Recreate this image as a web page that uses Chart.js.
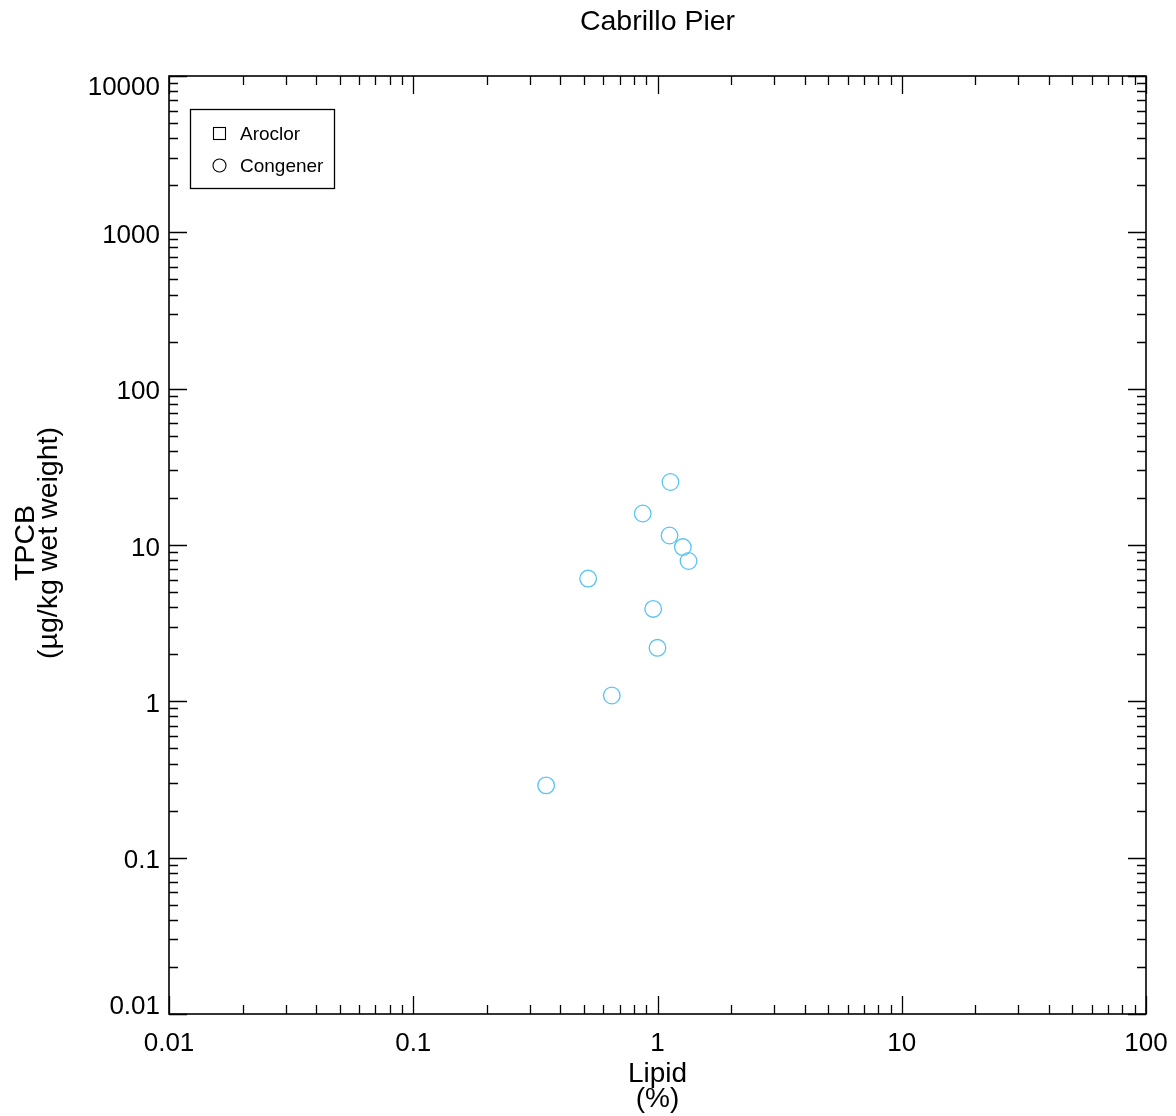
<!DOCTYPE html>
<html><head><meta charset="utf-8">
<script src="https://cdn.jsdelivr.net/npm/chart.js@4/dist/chart.umd.min.js"></script>
<style>html,body{margin:0;padding:0;background:#fff}#wrap{width:1176px;height:1116px;position:relative}</style>
</head><body><div id="wrap"><canvas id="c" width="1176" height="1116"></canvas></div>
<script>
const chartTitle = "Cabrillo Pier";
const xTitle = ["Lipid", "(%)"];
const yTitle = ["TPCB", "(µg/kg wet weight)"];
const xTickValues = [0.01, 0.1, 1, 10, 100];
const xTickLabels = ["0.01", "0.1", "1", "10", "100"];
const yTickValues = [0.01, 0.1, 1, 10, 100, 1000, 10000];
const yTickLabels = ["0.01", "0.1", "1", "10", "100", "1000", "10000"];
const seriesNames = ["Aroclor", "Congener"];
const aroclorLipid = [];
const aroclorTPCB = [];
const congenerLipid = [1.13, 0.87, 1.12, 1.27, 1.34, 0.52, 0.96, 1.00, 0.65, 0.35];
const congenerTPCB = [25.3, 15.9, 11.5, 9.7, 7.9, 6.1, 3.9, 2.2, 1.09, 0.29];

const FONT = "'Liberation Sans', Arial, Helvetica, sans-serif";
const pointColor = "rgb(88,196,244)";

function toPoints(xs, ys) { return xs.map((x, i) => ({ x: x, y: ys[i] })); }

const framePlugin = {
  id: "frame",
  afterDraw(chart) {
    const ctx = chart.ctx;
    const a = chart.chartArea;
    const xs = chart.scales.x, ys = chart.scales.y;
    ctx.save();
    ctx.strokeStyle = "#000";
    ctx.lineWidth = 1.6;
    ctx.strokeRect(a.left, a.top, a.right - a.left, a.bottom - a.top);
    ctx.lineWidth = 1.3;
    const MAJ = 18, MIN = 9;
    ctx.beginPath();
    for (let e = -2; e <= 2; e++) {
      for (let m = 1; m <= 9; m++) {
        const v = m * Math.pow(10, e);
        if (v > 100.0001) continue;
        const px = Math.round(xs.getPixelForValue(v)) + 0.5;
        const len = m === 1 ? MAJ : MIN;
        ctx.moveTo(px, a.bottom); ctx.lineTo(px, a.bottom - len);
        ctx.moveTo(px, a.top); ctx.lineTo(px, a.top + len);
      }
    }
    for (let e = -2; e <= 4; e++) {
      for (let m = 1; m <= 9; m++) {
        const v = m * Math.pow(10, e);
        if (v > 10000.001) continue;
        const py = Math.round(ys.getPixelForValue(v)) + 0.5;
        const len = m === 1 ? MAJ : MIN;
        ctx.moveTo(a.left, py); ctx.lineTo(a.left + len, py);
        ctx.moveTo(a.right, py); ctx.lineTo(a.right - len, py);
      }
    }
    ctx.stroke();

    ctx.fillStyle = "#000";
    // tick labels
    ctx.font = "26px " + FONT;
    ctx.textAlign = "center";
    ctx.textBaseline = "alphabetic";
    xTickValues.forEach((v, i) => {
      ctx.fillText(xTickLabels[i], xs.getPixelForValue(v), 1051);
    });
    ctx.textAlign = "right";
    const half = 9.3;
    yTickValues.forEach((v, i) => {
      let c = ys.getPixelForValue(v) + 1.5;
      c = Math.min(Math.max(c, a.top + half), a.bottom - half);
      ctx.fillText(yTickLabels[i], 160, c + half);
    });

    // title
    const cx = (a.left + a.right) / 2;
    ctx.textAlign = "center";
    ctx.textBaseline = "middle";
    ctx.font = "28.5px " + FONT;
    ctx.fillText(chartTitle, cx, 22);

    // x title
    ctx.font = "28px " + FONT;
    ctx.textBaseline = "alphabetic";
    ctx.fillText(xTitle[0], cx, 1082);
    ctx.fillText(xTitle[1], cx, 1107);

    // y title
    const cy = (a.top + a.bottom) / 2;
    ctx.save();
    ctx.translate(0, cy - 2);
    ctx.rotate(-Math.PI / 2);
    ctx.textAlign = "center";
    ctx.textBaseline = "middle";
    ctx.font = "28.5px " + FONT;
    ctx.fillText(yTitle[0], 0, 26);
    ctx.fillText(yTitle[1], 0, 49);
    ctx.restore();

    // legend
    ctx.lineWidth = 1.3;
    ctx.strokeRect(190.5, 109.5, 144, 79);
    ctx.lineWidth = 1.1;
    ctx.strokeRect(213.5, 127.5, 12, 12);
    ctx.beginPath();
    ctx.arc(219.5, 165.5, 6.5, 0, Math.PI * 2);
    ctx.stroke();
    ctx.font = "19px " + FONT;
    ctx.textAlign = "left";
    ctx.textBaseline = "middle";
    ctx.fillText(seriesNames[0], 240, 134.5);
    ctx.fillText(seriesNames[1], 240, 166.5);
    ctx.restore();
  }
};

new Chart(document.getElementById("c"), {
  type: "scatter",
  data: {
    datasets: [
      { label: seriesNames[0], data: toPoints(aroclorLipid, aroclorTPCB), pointStyle: "rect",
        pointRadius: 8, borderColor: pointColor, backgroundColor: "rgba(0,0,0,0)", borderWidth: 1.3 },
      { label: seriesNames[1], data: toPoints(congenerLipid, congenerTPCB), pointStyle: "circle",
        pointRadius: 8.3, borderColor: pointColor, backgroundColor: "rgba(0,0,0,0)", borderWidth: 1.3 }
    ]
  },
  options: {
    responsive: false,
    devicePixelRatio: 1,
    animation: false,
    layout: { padding: { top: 76, right: 30, left: 0, bottom: 0 } },
    plugins: { legend: { display: false }, tooltip: { enabled: false }, title: { display: false } },
    scales: {
      x: {
        type: "logarithmic", position: "bottom", min: 0.01, max: 100,
        grid: { display: false, drawTicks: false }, border: { display: false },
        afterBuildTicks(s) { s.ticks = xTickValues.map(v => ({ value: v, major: true })); },
        afterFit(s) { s.height = 102; },
        ticks: { display: false }
      },
      y: {
        type: "logarithmic", position: "left", min: 0.01, max: 10000,
        grid: { display: false, drawTicks: false }, border: { display: false },
        afterBuildTicks(s) { s.ticks = yTickValues.map(v => ({ value: v, major: true })); },
        afterFit(s) { s.width = 169; },
        ticks: { display: false }
      }
    }
  },
  plugins: [framePlugin]
});
</script>
</body></html>
